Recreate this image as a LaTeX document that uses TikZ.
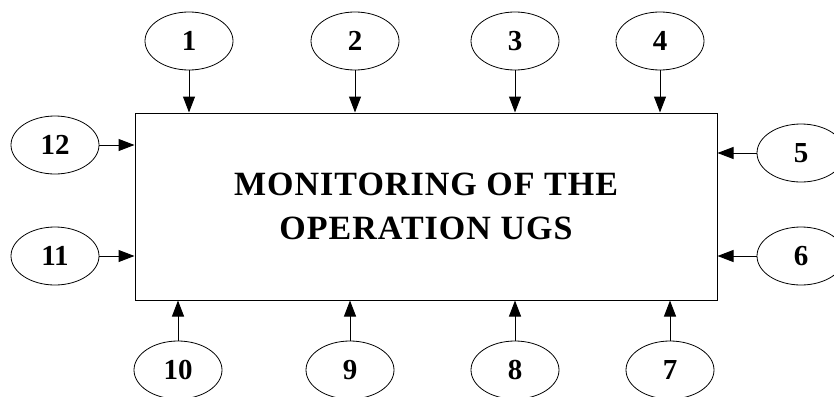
\documentclass[tikz,border=0pt]{standalone}
\usepackage{fontspec}
\setmainfont{Liberation Serif}
\newfontfamily\boxfont[LetterSpace=3]{Liberation Serif}
\usepackage{tikz}
\usetikzlibrary{shapes.geometric,arrows.meta}

\begin{document}
\begin{tikzpicture}[x=1pt, y=-1pt, line width=1pt,
		factor/.style = {draw, ellipse, inner sep=0pt, line width=0.8pt, minimum width=88pt,
			minimum height=58pt, font=\bfseries\fontsize{29}{29}\selectfont},
		feed/.style = {-{Triangle[length=16pt, width=12pt]}}]
			\useasboundingbox (0, 0) rectangle (834, 396);
			% main block
			\node[draw, minimum width=582pt, minimum height=187pt, align=center,
				font=\boxfont\bfseries\fontsize{34}{44}\selectfont]
				(ugs) at (426, 206.5) {MONITORING OF THE\\OPERATION UGS};
			% top row
			\node[factor] (f1) at (189, 41) {1};
			\node[factor] (f2) at (355, 41) {2};
			\node[factor] (f3) at (515, 41) {3};
			\node[factor] (f4) at (660, 41) {4};
			% right side
			\node[factor] (f5) at (801, 153) {5};
			\node[factor] (f6) at (801, 256) {6};
			% bottom row
			\node[factor] (f7) at (670, 370) {7};
			\node[factor] (f8) at (515, 370) {8};
			\node[factor] (f9) at (350, 370) {9};
			\node[factor] (f10) at (178, 370) {10};
			% left side
			\node[factor] (f11) at (55, 256) {11};
			\node[factor] (f12) at (55, 145) {12};
			% arrows into the block
			\foreach \n in {1,2,3,4}
				\draw[feed] (f\n) -- (f\n |- ugs.north);
			\foreach \n in {7,8,9,10}
				\draw[feed] (f\n) -- (f\n |- ugs.south);
			\foreach \n in {5,6}
				\draw[feed] (f\n) -- (f\n -| ugs.east);
			\foreach \n in {11,12}
				\draw[feed] (f\n) -- (f\n -| ugs.west);
		\end{tikzpicture}
\end{document}
